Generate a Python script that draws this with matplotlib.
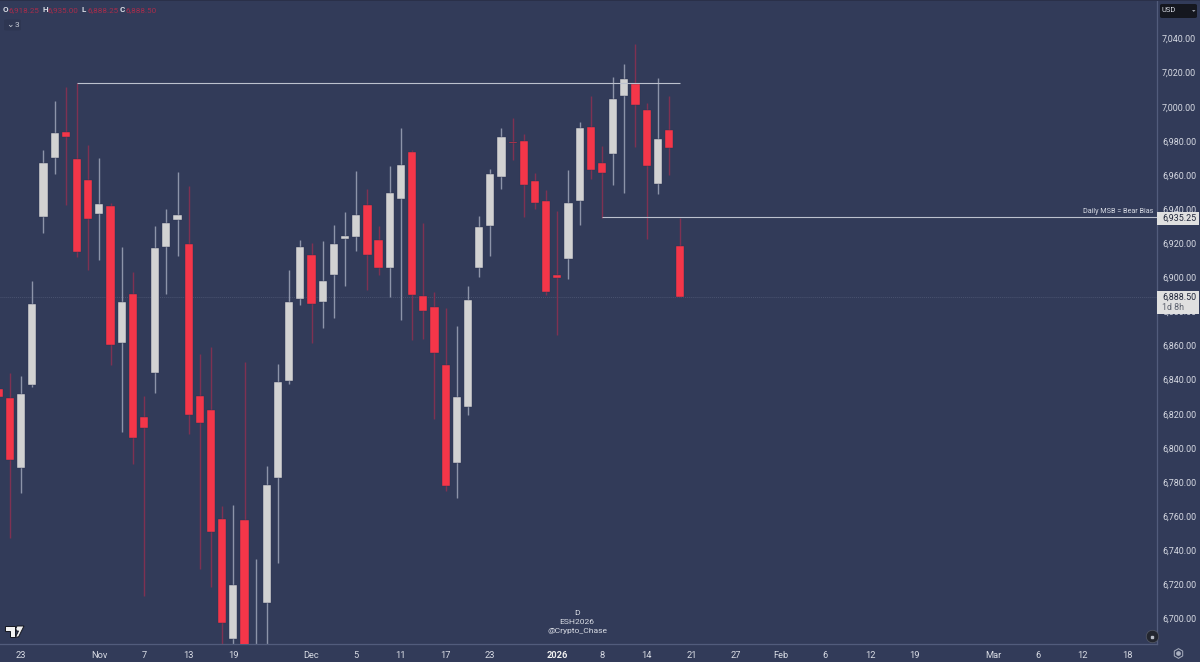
import matplotlib
matplotlib.use("Agg")
import matplotlib.pyplot as plt
from matplotlib.patches import Rectangle, Polygon, FancyBboxPatch

plt.rcParams['font.family'] = ['Roboto', 'DejaVu Sans']

highs = [6836.9,6844.1,6842.2,6898.0,6974.6,7003.4,7011.4,7013.7,6977.6,6969.8,6943.4,6918.0,6903.1,6830.4,6930.1,6940.0,
         6961.7,6953.5,6855.0,6859.0,6766.1,6766.5,6850.5,6734.9,6789.4,6849.2,6904.3,6921.9,6920.3,6921.1,6930.8,
         6938.5,6962.5,6952.0,6930.1,6965.4,6987.5,6974.6,6932.0,6891.4,6882.0,6871.5,6894.9,6935.8,6963.3,6987.4,
         6993.4,6984.2,6961.0,6951.0,6939.0,6963.1,6990.9,7006.3,6977.2,7017.3,7024.9,7036.8,7002.0,7016.7,7006.5,6935.0]
lows = [6828.1,6747.4,6773.7,6835.9,6925.8,6960.7,6942.6,6912.1,6904.5,6910.2,6848.6,6809.5,6790.4,6713.4,6832.0,6890.2,
        6912.5,6808.0,6728.8,6718.7,6681.5,6681.5,6672.7,6672.7,6681.5,6732.4,6837.5,6883.8,6861.7,6870.5,6876.0,
        6894.9,6915.3,6892.6,6901.4,6888.6,6875.0,6863.4,6863.8,6816.8,6774.9,6770.8,6819.3,6900.0,6912.7,6952.0,
        6968.8,6935.5,6940.2,6889.6,6866.0,6899.0,6930.7,6957.5,6934.6,6954.0,6949.6,6976.4,6922.6,6949.0,6960.0,6888.25]
body_tops = [6834.4,6829.4,6831.8,6884.4,6967.0,6984.8,6985.2,6969.5,6957.0,6943.0,6942.0,6885.5,6890.1,6818.3,6917.2,6931.8,
             6936.4,6919.4,6830.4,6822.2,6758.5,6719.6,6757.9,6681.5,6778.3,6838.5,6885.8,6917.8,6913.1,6897.8,6919.7,
             6924.4,6936.5,6942.4,6921.7,6949.4,6966.0,6973.5,6889.3,6882.4,6848.6,6829.9,6886.7,6929.5,6960.6,6982.1,
             6979.3,6980.1,6956.3,6944.9,6901.4,6943.4,6987.4,6988.1,6967.0,7004.7,7016.1,7013.5,6997.9,6981.3,6986.2,6918.25]
body_bottoms = [6829.7,6792.9,6788.1,6836.7,6935.4,6970.0,6982.3,6915.0,6934.2,6937.0,6860.5,6861.7,6805.6,6811.8,6844.1,6917.8,
                6933.8,6819.1,6814.6,6750.5,6697.4,6687.8,6678.6,6676.8,6709.1,6782.5,6839.2,6887.3,6884.4,6885.7,6901.5,
                6922.6,6923.6,6913.1,6905.6,6905.5,6946.1,6889.8,6880.1,6855.6,6777.7,6791.0,6824.0,6905.5,6930.1,6958.8,
                6978.9,6954.3,6943.4,6891.6,6899.6,6910.8,6944.7,6962.7,6961.2,6972.5,7006.5,7001.0,6965.4,6954.9,6976.0,6888.5]
rising = [2,3,4,5,9,11,14,15,16,21,23,24,25,26,27,29,30,31,32,35,36,41,42,43,44,45,51,52,55,56,59]

x_tick_pos = [2,9,13,17,21,28,32,36,40,44,50,54,58,62,66,70,74,78,82,89,93,97,101]
x_tick_labels = ['23','Nov','7','13','19','Dec','5','11','17','23','2026','8','14','21','27','Feb','6','12','19','Mar','6','12','18']
y_ticks = list(range(6700, 7041, 20))
swing_high = 7014.0
msb_level = 6935.25
last_close = 6888.5

BG = '#323b59'
W, H = 1200, 662
PLOT_R, PLOT_B = 1156.5, 644
step = 11.17
x0 = -1.2

def fx(px): return px / W
def fy(py): return 1 - py / H

fig = plt.figure(figsize=(12, 6.62), dpi=100, facecolor=BG)
ax = fig.add_axes([0, 1 - PLOT_B / H, PLOT_R / W, PLOT_B / H], facecolor=BG)
ax.set_xlim((0 - x0) / step, (PLOT_R - x0) / step)
ax.set_ylim(6685.06, 7062.57)

idx = list(range(len(highs)))
wick_col = ['#8d94a9' if i in rising else '#7f3152' for i in idx]
body_col = ['#d2d2d2' if i in rising else '#f43649' for i in idx]
ax.vlines(idx, lows, highs, colors=wick_col, linewidth=1.0, zorder=2)
heights = [t - b for t, b in zip(body_tops, body_bottoms)]
ax.bar(idx, heights, bottom=body_bottoms, width=8.2 / step, color=body_col,
       edgecolor='#2b3350', linewidth=0.3, zorder=3)

ax.axhline(last_close, color='#4a5370', linewidth=0.7, linestyle=(0, (1, 1)), zorder=1)
ax.hlines(swing_high, 7, 61, color='#bcc1ce', linewidth=0.8, zorder=4)
ax.hlines(msb_level, 54, ax.get_xlim()[1], color='#bcc1ce', linewidth=0.8, zorder=4)
ax.text(1153 / PLOT_R, msb_level + 1.2, 'Daily MSB = Bear Bias', transform=ax.get_yaxis_transform(),
        ha='right', va='bottom', fontsize=5.2, color='#d8dbe4')

for s in ('top', 'left'):
    ax.spines[s].set_visible(False)
for s in ('right', 'bottom'):
    ax.spines[s].set_color('#525c7c')
    ax.spines[s].set_linewidth(0.9)

ax.yaxis.tick_right()
ax.set_yticks(y_ticks)
ax.set_yticklabels([f'{v:,.2f}' for v in y_ticks])
ax.tick_params(axis='y', length=0, pad=4.0, labelsize=6.4, labelcolor='#d8dbe4')
ax.set_xticks(x_tick_pos)
ax.set_xticklabels(x_tick_labels)
ax.tick_params(axis='x', length=0, pad=5, labelsize=6.7, labelcolor='#d8dbe4')
for lab in ax.get_xticklabels():
    if lab.get_text() == '2026':
        lab.set_fontweight('bold')
        lab.set_color('#f0f0f0')

# thin top edge
fig.add_artist(Rectangle((0, fy(1)), 1, 1 / H, transform=fig.transFigure,
                         facecolor='#2a3049', edgecolor='none', zorder=4))

# last-price tags
fig.add_artist(Rectangle((fx(1157), fy(225)), 42 / W, 13 / H, transform=fig.transFigure,
                         facecolor='#e0e0e0', edgecolor='none', zorder=5))
fig.text(fx(1162.5), fy(218.3), '6,935.25', fontsize=6.4, color='#20263a', va='center', zorder=6)
fig.add_artist(Rectangle((fx(1157), fy(314)), 42 / W, 22.5 / H, transform=fig.transFigure,
                         facecolor='#e0e0e0', edgecolor='none', zorder=5))
fig.text(fx(1162.5), fy(297.3), '6,888.50', fontsize=6.4, color='#20263a', va='center', zorder=6)
fig.text(fx(1162.5), fy(307.5), '1d 8h', fontsize=6.4, color='#5a5f6c', va='center', zorder=6)

# USD button
fig.add_artist(FancyBboxPatch((fx(1160), fy(18)), 37 / W, 14 / H, transform=fig.transFigure,
                              boxstyle='round,pad=0,rounding_size=0.002', facecolor='#15171f', edgecolor='none', zorder=5))
fig.text(fx(1161.5), fy(10.7), 'USD', fontsize=5.4, color='#d8dbe4', va='center', zorder=6)
fig.add_artist(Polygon([[fx(1192), fy(10)], [fx(1195.5), fy(10)], [fx(1193.75), fy(12)]], closed=True,
                       transform=fig.transFigure, facecolor='#9a9ea8', edgecolor='none', zorder=6))

# OHLC legend
legend_parts = [(2.5, 'O', '#d8dbe4', 'bold'), (8.7, '6,918.25', '#a82c4b', 'normal'),
                (42, 'H', '#d8dbe4', 'bold'), (48, '6,935.00', '#a82c4b', 'normal'),
                (82, 'L', '#d8dbe4', 'bold'), (87, '6,888.25', '#a82c4b', 'normal'),
                (120, 'C', '#d8dbe4', 'bold'), (126, '6,888.50', '#a82c4b', 'normal')]
for px, s, c, w in legend_parts:
    fig.text(fx(px), fy(10), s, fontsize=5.8, color=c, fontweight=w, va='center', zorder=6)
fig.add_artist(FancyBboxPatch((fx(4), fy(30.5)), 17 / W, 11 / H, transform=fig.transFigure,
                              boxstyle='round,pad=0,rounding_size=0.002', facecolor='#2e3652', edgecolor='none', zorder=5))
fig.text(fx(9.5), fy(24.3), '\u2304', fontsize=6.5, color='#c8ccd6', ha='center', va='center',
         family=['DejaVu Sans'], zorder=6)
fig.text(fx(14.5), fy(24.8), '3', fontsize=6.0, color='#c8ccd6', va='center', zorder=6)

# watermark
for py, s in ((613, 'D'), (622, 'ESH2026'), (631, '@Crypto_Chase')):
    fig.text(fx(577), fy(py), s, fontsize=6.1, color='#d8dbe4', ha='center', va='center', zorder=6)

# TradingView mark
logo = [
    [(5, 626), (15, 626), (15, 637), (10, 637), (10, 631), (5, 631)],
    [(18.5, 631), (15.5, 637), (18.5, 637), (24, 626), (17, 626), (15.8, 628.5), (16.5, 631)],
]
for shape in logo:
    fig.add_artist(Polygon([[fx(a), fy(b)] for a, b in shape], closed=True, transform=fig.transFigure,
                           facecolor='#f2f2f2', edgecolor='#15171f', linewidth=0.7, zorder=6))

# scale-lock and settings badges
fig.add_artist(plt.Line2D([fx(1152)], [fy(636)], marker='o', markersize=9, color='#23262f',
                          markeredgecolor='#555a68', markeredgewidth=0.5, transform=fig.transFigure, zorder=6))
fig.add_artist(plt.Line2D([fx(1152)], [fy(636.5)], marker='s', markersize=2.0, color='#b8bcc6',
                          transform=fig.transFigure, zorder=7))
fig.add_artist(plt.Line2D([fx(1177.5)], [fy(653)], marker='h', markersize=7, color='none',
                          markeredgecolor='#aab0c0', markeredgewidth=0.7, transform=fig.transFigure, zorder=6))
fig.add_artist(plt.Line2D([fx(1177.5)], [fy(653)], marker='o', markersize=2.4, color='#aab0c0',
                          transform=fig.transFigure, zorder=6))

fig.savefig('out.png', dpi=100, facecolor=BG)
